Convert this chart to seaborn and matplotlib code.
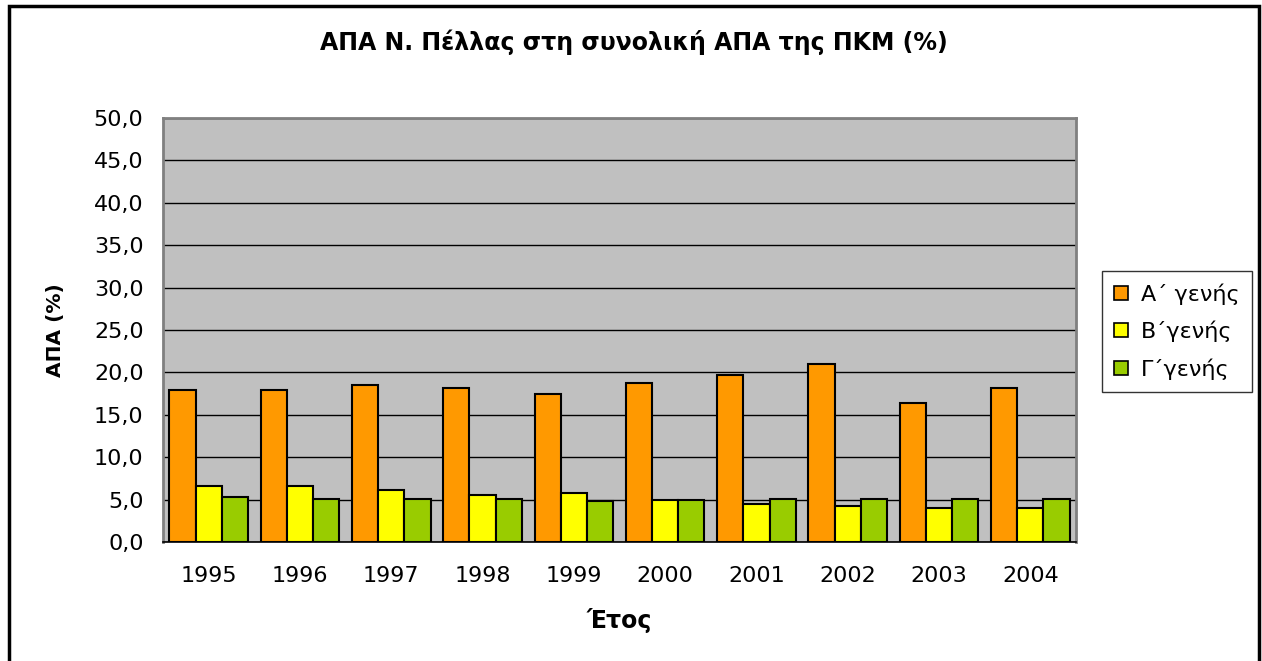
import numpy as np
import pandas as pd
import seaborn as sns
import matplotlib.pyplot as plt
from matplotlib.patches import Rectangle
from matplotlib.ticker import FuncFormatter, MultipleLocator, FixedLocator

years = ['1995', '1996', '1997', '1998', '1999', '2000', '2001', '2002', '2003', '2004']
primary = [17.9, 17.9, 18.5, 18.2, 17.4, 18.7, 19.7, 21.0, 16.4, 18.2]
secondary = [6.6, 6.6, 6.1, 5.5, 5.8, 5.0, 4.5, 4.3, 4.0, 4.0]
tertiary = [5.3, 5.1, 5.1, 5.1, 4.8, 5.0, 5.1, 5.1, 5.1, 5.1]
sectors = ['Α΄ γενής', 'Β΄γενής', 'Γ΄γενής']
colors = ['#FF9900', '#FFFF00', '#99CC00']

df = pd.DataFrame({
    'year': years * 3,
    'value': primary + secondary + tertiary,
    'sector': [s for s in sectors for _ in years],
})

sns.set_style('white')
plt.rcParams['font.family'] = ['DejaVu Sans']
plt.rcParams['text.color'] = 'black'
plt.rcParams['axes.labelcolor'] = 'black'
plt.rcParams['xtick.color'] = 'black'
plt.rcParams['ytick.color'] = 'black'

fig = plt.figure(figsize=(12.62, 6.61), dpi=100)
ax = fig.add_axes([163 / 1262, 119 / 661, 913 / 1262, 424 / 661])

sns.barplot(data=df, x='year', y='value', hue='sector', palette=colors,
            width=0.86, edgecolor='black', linewidth=1.5, saturation=1,
            ax=ax, zorder=3)

ax.set_facecolor('#C0C0C0')
ax.set_ylim(0, 50)
ax.set_xlim(-0.5, 9.5)
ax.yaxis.set_major_locator(MultipleLocator(5))
ax.yaxis.set_major_formatter(FuncFormatter(lambda v, p: f'{v:.1f}'.replace('.', ',')))
ax.grid(axis='y', color='black', linewidth=1, zorder=1)
ax.set_axisbelow(True)

ax.xaxis.set_minor_locator(FixedLocator(np.arange(-0.5, 10, 1)))
ax.tick_params(axis='x', which='major', length=0, labelsize=16, pad=17)
ax.tick_params(axis='x', which='minor', length=7, width=1, direction='out')
ax.tick_params(axis='y', which='major', length=5, width=1,
               direction='out', labelsize=16, pad=9)

for side in ['top', 'right', 'left']:
    ax.spines[side].set_color('#808080')
    ax.spines[side].set_linewidth(2)
ax.spines['bottom'].set_color('black')
ax.spines['bottom'].set_linewidth(1.2)

ax.set_xlabel('Έτος', fontsize=17, fontweight='bold')
ax.set_ylabel('ΑΠΑ (%)', fontsize=14.5, fontweight='bold')
ax.xaxis.set_label_coords(0.5, -0.155)
ax.yaxis.set_label_coords(-0.107, 0.5)
fig.text(0.502, 1 - 42 / 661, 'ΑΠΑ Ν. Πέλλας στη συνολική ΑΠΑ της ΠΚΜ (%)',
         ha='center', va='center', fontsize=17, fontweight='bold')

leg = ax.legend(loc='upper left', bbox_to_anchor=(1102 / 1262, 1 - 271 / 661),
                bbox_transform=fig.transFigure, borderaxespad=0, frameon=True,
                fancybox=False, fontsize=16, handlelength=0.6, handleheight=0.6,
                handletextpad=0.6, labelspacing=0.72, borderpad=0.55,
                edgecolor='black', title=None)
leg.get_frame().set_linewidth(1)
for h in leg.legend_handles:
    h.set_edgecolor('black')
    h.set_linewidth(1.2)

fig.patches.append(Rectangle((9 / 1262, -0.01), 1250 / 1262, 1 - 6 / 661 + 0.01,
                             transform=fig.transFigure, fill=False,
                             edgecolor='black', linewidth=2.5))

fig.savefig('out.png', dpi=100)
